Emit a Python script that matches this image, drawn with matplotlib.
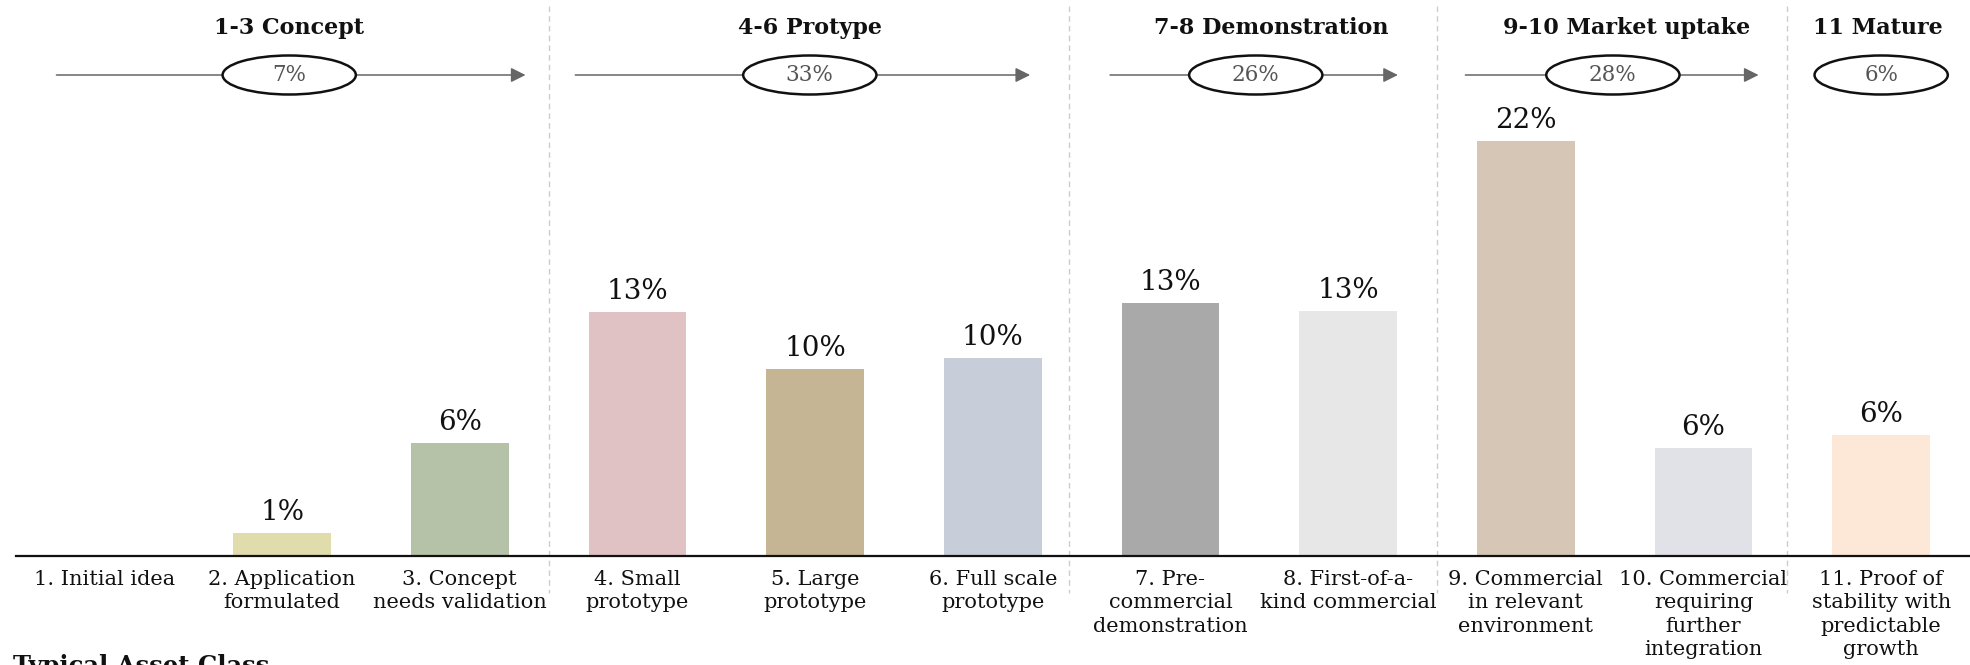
import matplotlib
matplotlib.use("Agg")
import matplotlib.pyplot as plt
from matplotlib.patches import Ellipse

# --- data -------------------------------------------------------------
stage_labels = [
    "1. Initial idea",
    "2. Application\nformulated",
    "3. Concept\nneeds validation",
    "4. Small\nprototype",
    "5. Large\nprototype",
    "6. Full scale\nprototype",
    "7. Pre-\ncommercial\ndemonstration",
    "8. First-of-a-\nkind commercial",
    "9. Commercial\nin relevant\nenvironment",
    "10. Commercial\nrequiring\nfurther\nintegration",
    "11. Proof of\nstability with\npredictable\ngrowth",
]
stage_share = [0.0, 1.2, 6.0, 12.9, 9.9, 10.5, 13.4, 13.0, 22.0, 5.7, 6.4]
stage_colors = ["#ffffff", "#e0dcab", "#b5c2a8", "#e0c1c4", "#c5b594",
                "#c7cdd9", "#a9a9a9", "#e7e7e7", "#d6c6b6", "#e1e2e8",
                "#fde8d7"]

group_names = ["1-3 Concept", "4-6 Protype", "7-8 Demonstration",
               "9-10 Market uptake", "11 Mature"]
group_members = [[0, 1, 2], [3, 4, 5], [6, 7], [8, 9], [10]]

# --- layout -----------------------------------------------------------
W_PX, H_PX = 1970, 665
serif = "DejaVu Serif"
title_centers = [1.04, 3.97, 6.57, 8.57, 9.98]
ellipse_centers = [1.04, 3.97, 6.48, 8.49, 10.0]
group_arrow_span = [(-0.27, 2.37), (2.65, 5.21), (5.66, 7.28), (7.66, 9.31), None]
separators = [2.5, 5.43, 7.5, 9.47]

fig = plt.figure(figsize=(W_PX / 100, H_PX / 100), dpi=100)
left = 15.6 / W_PX
width = 1 - left

# overlay in pixel-height units for headers, arrows and separators
ov = fig.add_axes([left, 0, width, 1], zorder=0)
ov.set_xlim(-0.5, 10.5)
ov.set_ylim(0, H_PX)
ov.axis("off")

ax = fig.add_axes([left, 0.1644, width, 0.709], zorder=1)
ax.set_facecolor("none")
x = list(range(len(stage_share)))
ax.bar(x, stage_share, width=0.55, color=stage_colors)
ax.set_xlim(-0.5, 10.5)
ax.set_ylim(0, 25)
for s in ("top", "right", "left"):
    ax.spines[s].set_visible(False)
ax.spines["bottom"].set_linewidth(1.6)
ax.spines["bottom"].set_color("#111111")
ax.set_yticks([])
ax.set_xticks(x)
ax.set_xticklabels(stage_labels, family=serif, fontsize=15,
                   linespacing=1.3, color="#111111")
ax.tick_params(axis="x", length=0, pad=10)

for xi, v in zip(x, stage_share):
    if v > 0:
        ax.annotate(f"{v:.0f}%", (xi, v), xytext=(0, 5),
                    textcoords="offset points", ha="center", va="bottom",
                    family=serif, fontsize=20, color="#111111")

# separators between phases
for sx in separators:
    ov.plot([sx, sx], [H_PX - 6, 72], color="#cccccc", lw=1,
            ls=(0, (4, 3)))

# phase headers, arrows and phase totals
title_y = H_PX - 28
arrow_y = H_PX - 75
for name, members, tx, cx, span in zip(group_names, group_members,
                                       title_centers, ellipse_centers,
                                       group_arrow_span):
    total = sum(stage_share[i] for i in members)
    ov.text(tx, title_y, name, ha="center", va="center", family=serif,
            fontsize=16, fontweight="bold", color="#111111")
    if span is not None:
        ov.annotate("", xy=(span[1], arrow_y), xytext=(span[0], arrow_y),
                    arrowprops=dict(arrowstyle="-|>", color="#666666",
                                    lw=1.1, mutation_scale=22,
                                    shrinkA=0, shrinkB=0))
    ov.add_patch(Ellipse((cx, arrow_y), width=0.75, height=39,
                         facecolor="white", edgecolor="#111111", lw=1.8,
                         zorder=3))
    ov.text(cx, arrow_y, f"{total:.0f}%", ha="center", va="center",
            family=serif, fontsize=15.5, color="#555555", zorder=4)

fig.text(13 / W_PX, 11 / H_PX, "Typical Asset Class", ha="left", va="top",
         family=serif, fontsize=17.5, fontweight="bold", color="#111111")

fig.savefig("out.png", dpi=100, facecolor="white")
